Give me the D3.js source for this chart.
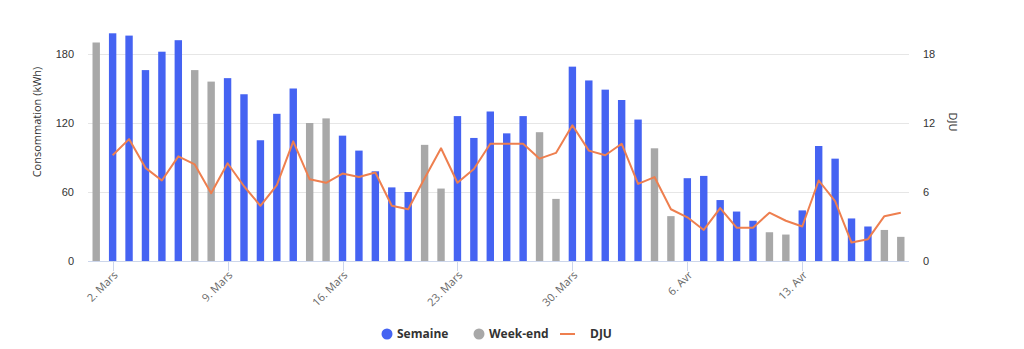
<!DOCTYPE html>
<html><head><meta charset="utf-8">
<script src="https://cdn.jsdelivr.net/npm/d3@7"></script>
<style>body{margin:0;background:#fff}svg{display:block;font-family:"Open Sans","DejaVu Sans",sans-serif}</style>
</head><body>
<svg id="c" width="1024" height="349"></svg>
<script>
const startDate = "2015-03-01";
const consumption = [190,198,196,166,182,192,166,156,159,145,105,128,150,120,124,109,96,78,64,60,101,63,126,107,130,111,126,112,54,169,157,149,140,123,98,39,72,74,53,43,35,25,23,44,100,89,37,30,27,21];
const weekendFlags = [1,0,0,0,0,0,1,1,0,0,0,0,0,1,1,0,0,0,0,0,1,1,0,0,0,0,0,1,1,0,0,0,0,0,1,1,0,0,0,0,0,1,1,0,0,0,0,0,1,1];
const djuStart = "2015-03-02";
const dju = [9.2,10.6,8.1,7.0,9.1,8.4,5.9,8.5,6.5,4.8,6.6,10.4,7.1,6.8,7.6,7.3,7.7,4.8,4.5,7.2,9.8,6.8,8.0,10.2,10.2,10.2,8.9,9.4,11.8,9.6,9.2,10.2,6.7,7.3,4.5,3.8,2.7,4.6,2.9,2.9,4.2,3.5,3.0,7.0,5.2,1.6,1.9,3.9,4.2];
const leftTicks = [0,60,120,180];
const rightTicks = [0,6,12,18];
const xTickDates = ["2015-03-02","2015-03-09","2015-03-16","2015-03-23","2015-03-30","2015-04-06","2015-04-13"];
const monthNames = ["Janv","Févr","Mars","Avr","Mai","Juin"];
const legendItems = ["Semaine","Week-end","DJU"];

const colBlue = "#4563f2", colGray = "#a8a8a8", colOrange = "#ee7f4f";
const DAY = 864e5;
const parse = s => { const [y,m,d] = s.split("-").map(Number); return Date.UTC(y,m-1,d); };
const t0 = parse(startDate);
const bars = consumption.map((v,i)=>({t:t0+i*DAY, v, we:weekendFlags[i]}));
const d0 = parse(djuStart);
const line = dju.map((v,i)=>({t:d0+i*DAY, v}));

const svg = d3.select("#c");
const L = 88, R = 909, B = 261;
const x = d3.scaleLinear().domain([t0 - DAY/2, bars[bars.length-1].t + DAY/2]).range([L, R]);
const yL = d3.scaleLinear().domain([0,180]).range([B, 54]);
const yR = d3.scaleLinear().domain([0,18]).range([B, 54]);

// gridlines
svg.append("g").selectAll("line").data(leftTicks.filter(d=>d>0)).join("line")
  .attr("x1",L).attr("x2",R).attr("y1",d=>yL(d)+0.5).attr("y2",d=>yL(d)+0.5)
  .attr("stroke","#e6e6e6").attr("stroke-width",1);

// left axis
const axL = d3.axisLeft(yL).tickValues(leftTicks).tickSize(0).tickPadding(0);
const gL = svg.append("g").attr("transform",`translate(${L-14},0)`).call(axL);
gL.select(".domain").remove();
gL.selectAll("text").attr("fill","#333").attr("font-size","11px").attr("dy","0.35em");

// right axis
const axR = d3.axisRight(yR).tickValues(rightTicks).tickSize(0).tickPadding(0);
const gR = svg.append("g").attr("transform",`translate(${R+14},0)`).call(axR);
gR.select(".domain").remove();
gR.selectAll("text").attr("fill","#333").attr("font-size","11px").attr("dy","0.35em");

// axis titles
svg.append("text").attr("transform","translate(41,122) rotate(-90)").attr("text-anchor","middle")
  .attr("fill","#333").attr("font-size","11px").text("Consommation (kWh)");
svg.append("text").attr("transform","translate(949,122) rotate(90)").attr("text-anchor","middle")
  .attr("fill","#333").attr("font-size","11px").text("DJU");

// bars
const bw = 7.4;
svg.append("g").selectAll("rect").data(bars).join("rect")
  .attr("x",d=>x(d.t)-bw/2).attr("width",bw)
  .attr("y",d=>yL(d.v)).attr("height",d=>B-yL(d.v))
  .attr("fill",d=>d.we?colGray:colBlue);

// x axis
const xTicks = xTickDates.map(parse);
const gX = svg.append("g").attr("transform",`translate(0,${B})`);
gX.append("line").attr("x1",L).attr("x2",R).attr("y1",0.5).attr("y2",0.5).attr("stroke","#ccd6eb");
gX.selectAll("line.tk").data(xTicks).join("line").attr("class","tk")
  .attr("x1",d=>Math.round(x(d))+0.5).attr("x2",d=>Math.round(x(d))+0.5).attr("y1",0).attr("y2",10).attr("stroke","#ccd6eb");
gX.selectAll("text").data(xTicks).join("text")
  .attr("transform",d=>`translate(${x(d)+3},${12}) rotate(-45)`)
  .attr("text-anchor","end").attr("dy","0.35em").attr("fill","#666").attr("font-size","11px")
  .text(d=>{const dt=new Date(d); return dt.getUTCDate()+". "+monthNames[dt.getUTCMonth()];});

// DJU line
svg.append("path").datum(line)
  .attr("d", d3.line().x(d=>x(d.t)).y(d=>yR(d.v)))
  .attr("fill","none").attr("stroke",colOrange).attr("stroke-width",2).attr("stroke-linejoin","round");

// legend
const lg = svg.append("g").attr("font-size","12px").attr("font-weight","bold").attr("fill","#333");
const lx = [387,479,567];
lg.append("circle").attr("cx",lx[0]).attr("cy",334).attr("r",5.5).attr("fill",colBlue);
lg.append("text").attr("x",lx[0]+10).attr("y",338).text(legendItems[0]);
lg.append("circle").attr("cx",lx[1]).attr("cy",334).attr("r",5.5).attr("fill",colGray);
lg.append("text").attr("x",lx[1]+10).attr("y",338).text(legendItems[1]);
lg.append("line").attr("x1",lx[2]-7).attr("x2",lx[2]+8).attr("y1",334).attr("y2",334).attr("stroke",colOrange).attr("stroke-width",2);
lg.append("text").attr("x",lx[2]+23).attr("y",338).text(legendItems[2]);
</script>
</body></html>
